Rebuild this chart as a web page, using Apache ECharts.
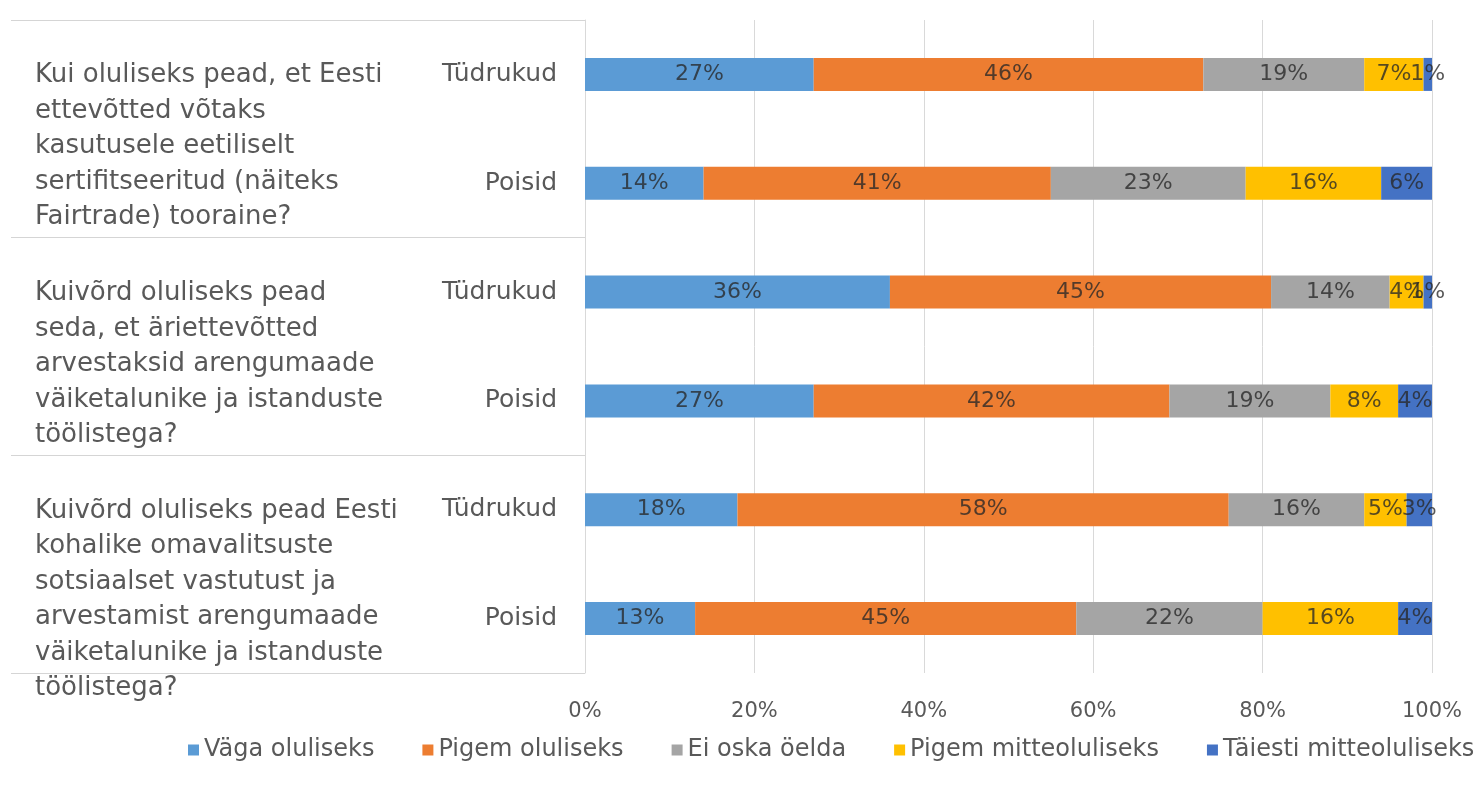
<!DOCTYPE html>
<html>
<head>
<meta charset="utf-8">
<script src="https://cdn.jsdelivr.net/npm/echarts@6/dist/echarts.min.js"></script>
<style>
html,body{margin:0;padding:0;background:#fff;}
#chart{width:1481px;height:789px;}
</style>
</head>
<body>
<div id="chart"></div>
<script>
// ---- Data ----
var subCategories = ['Tüdrukud', 'Poisid', 'Tüdrukud', 'Poisid', 'Tüdrukud', 'Poisid'];
var questions = [
  'Kui oluliseks pead, et Eesti\nettevõtted võtaks\nkasutusele eetiliselt\nsertifitseeritud (näiteks\nFairtrade) tooraine?',
  'Kuivõrd oluliseks pead\nseda, et äriettevõtted\narvestaksid arengumaade\nväiketalunike ja istanduste\ntöölistega?',
  'Kuivõrd oluliseks pead Eesti\nkohalike omavalitsuste\nsotsiaalset vastutust ja\narvestamist arengumaade\nväiketalunike ja istanduste\ntöölistega?'
];
var seriesNames = ['Väga oluliseks', 'Pigem oluliseks', 'Ei oska öelda', 'Pigem mitteoluliseks', 'Täiesti mitteoluliseks'];
var vagaOluliseks        = [27, 14, 36, 27, 18, 13];
var pigemOluliseks       = [46, 41, 45, 42, 58, 45];
var eiOskaOelda          = [19, 23, 14, 19, 16, 22];
var pigemMitteoluliseks  = [7, 16, 4, 8, 5, 16];
var taiestiMitteoluliseks= [1, 6, 1, 4, 3, 4];
var xTicks = [0, 20, 40, 60, 80, 100];

var colors = ['#5B9BD5', '#ED7D31', '#A5A5A5', '#FFC000', '#4472C4'];
var values = [vagaOluliseks, pigemOluliseks, eiOskaOelda, pigemMitteoluliseks, taiestiMitteoluliseks];
var FONT = '"DejaVu Sans", "Open Sans", sans-serif';
var questionLeadLines = [1, 1, 2];

var chart = echarts.init(document.getElementById('chart'));
var option = {
  backgroundColor: '#ffffff',
  animation: false,
  textStyle: { fontFamily: FONT },
  grid: { left: 585, right: 49, top: 20, bottom: 116, containLabel: false, outerBoundsMode: 'none' },
  legend: {
    data: seriesNames,
    left: 188, top: 738, width: 1293, padding: 0,
    icon: 'rect', itemWidth: 11, itemHeight: 11, itemGap: 48,
    textStyle: { fontSize: 24, color: '#595959', fontFamily: FONT }
  },
  xAxis: {
    type: 'value', min: xTicks[0], max: xTicks[xTicks.length - 1], interval: 20,
    axisLine: { show: false }, axisTick: { show: false },
    splitLine: { lineStyle: { color: '#d9d9d9', width: 1 } },
    axisLabel: { formatter: '{value}%', fontSize: 21, color: '#595959', margin: 28, fontFamily: FONT }
  },
  yAxis: [
    {
      type: 'category', data: subCategories, inverse: true,
      axisLine: { show: true, lineStyle: { color: '#d9d9d9' } },
      axisTick: { show: false },
      axisLabel: { fontSize: 25, color: '#595959', margin: 28, interval: 0, fontFamily: FONT }
    },
    {
      type: 'category', inverse: true, position: 'left',
      data: questions,
      axisLine: { show: false },
      axisTick: { show: true, length: 574, interval: 0, lineStyle: { color: '#d5d5d5' } },
      axisLabel: {
        interval: 0, align: 'left', margin: 550, fontSize: 26, lineHeight: 35.5,
        color: '#595959', fontFamily: FONT,
        formatter: function (v, i) { return new Array(questionLeadLines[i] + 1).join('\n') + v; }
      }
    }
  ],
  series: seriesNames.map(function (name, i) {
    return {
      name: name, type: 'bar', stack: 'total', yAxisIndex: 0,
      barWidth: 33,
      itemStyle: { color: colors[i] },
      label: { show: true, position: 'inside', formatter: '{c}%', fontSize: 22, color: 'rgba(40,40,40,0.78)', fontFamily: FONT },
      data: values[i]
    };
  })
};
chart.setOption(option);
</script>
</body>
</html>
